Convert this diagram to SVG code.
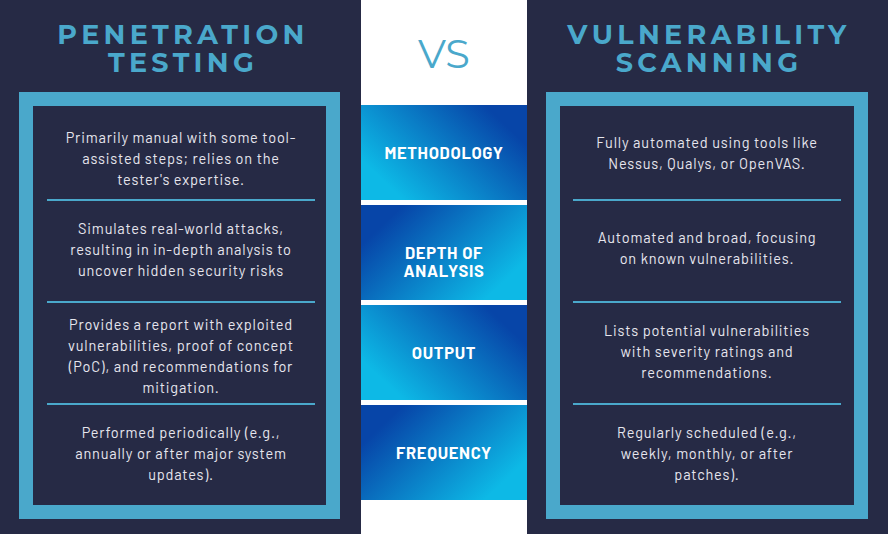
<svg xmlns="http://www.w3.org/2000/svg" width="888" height="534" viewBox="0 0 888 534">
<defs>
<linearGradient id="gA" x1="0" y1="0.8" x2="1" y2="0.2"><stop offset="0.1" stop-color="#0db9e6"/><stop offset="0.9" stop-color="#0745a8"/></linearGradient>
<linearGradient id="gB" x1="0" y1="0.2" x2="1" y2="0.8"><stop offset="0.1" stop-color="#0745a8"/><stop offset="0.9" stop-color="#0db9e6"/></linearGradient>
<style>
.panel{fill:#262a45}
.frame{fill:none;stroke:#4aa8cb;stroke-width:14}
.sep{stroke:#4aa8cb;stroke-width:2}
.title{font-family:Montserrat,"Liberation Sans",sans-serif;font-weight:bold;font-size:27px;letter-spacing:4.3px;fill:#4aa8cb;text-anchor:middle}
.body{font-family:Barlow,Roboto,"Liberation Sans",sans-serif;font-size:14.5px;letter-spacing:0.8px;fill:#e6e6ee;text-anchor:middle}
.lab{font-family:Barlow,Roboto,"Liberation Sans",sans-serif;font-weight:bold;font-size:16.5px;letter-spacing:0.7px;fill:#ffffff;text-anchor:middle}
</style>
</defs>
<rect width="888" height="534" fill="#ffffff"/>
<g id="left">
<rect class="panel" x="0" y="0" width="361" height="534"/>
<text class="title" x="183" y="44">PENETRATION</text>
<text class="title" x="183" y="72">TESTING</text>
<rect class="frame" x="26" y="99" width="307" height="413"/>
<line class="sep" x1="47" y1="200" x2="315" y2="200"/>
<line class="sep" x1="47" y1="302" x2="315" y2="302"/>
<line class="sep" x1="47" y1="404" x2="315" y2="404"/>
<text class="body"><tspan x="181" y="143">Primarily manual with some tool-</tspan><tspan x="181" y="164">assisted steps; relies on the</tspan><tspan x="181" y="185">tester's expertise.</tspan></text>
<text class="body"><tspan x="181" y="234">Simulates real-world attacks,</tspan><tspan x="181" y="255">resulting in in-depth analysis to</tspan><tspan x="181" y="276">uncover hidden security risks</tspan></text>
<text class="body"><tspan x="181" y="330">Provides a report with exploited</tspan><tspan x="181" y="351">vulnerabilities, proof of concept</tspan><tspan x="181" y="372">(PoC), and recommendations for</tspan><tspan x="181" y="393">mitigation.</tspan></text>
<text class="body"><tspan x="181" y="438">Performed periodically (e.g.,</tspan><tspan x="181" y="459">annually or after major system</tspan><tspan x="181" y="480">updates).</tspan></text>
</g>
<g id="vs"><text x="444" y="68" font-family="Montserrat,'Liberation Sans',sans-serif" font-size="40" fill="#4aa8cb" text-anchor="middle">VS</text></g>
<g id="middle">
<rect x="361" y="105" width="166" height="95" fill="url(#gA)"/>
<rect x="361" y="205" width="166" height="95" fill="url(#gB)"/>
<rect x="361" y="305" width="166" height="95" fill="url(#gA)"/>
<rect x="361" y="405" width="166" height="95" fill="url(#gB)"/>
<text class="lab" x="444" y="159">METHODOLOGY</text>
<text class="lab" x="444" y="259">DEPTH OF</text>
<text class="lab" x="444" y="277">ANALYSIS</text>
<text class="lab" x="444" y="359">OUTPUT</text>
<text class="lab" x="444" y="459">FREQUENCY</text>
</g>
<g id="right">
<rect class="panel" x="527" y="0" width="361" height="534"/>
<text class="title" x="709" y="44">VULNERABILITY</text>
<text class="title" x="709" y="72">SCANNING</text>
<rect class="frame" x="553" y="99" width="308" height="413"/>
<line class="sep" x1="573" y1="200" x2="841" y2="200"/>
<line class="sep" x1="573" y1="302" x2="841" y2="302"/>
<line class="sep" x1="573" y1="404" x2="841" y2="404"/>
<text class="body"><tspan x="707" y="148">Fully automated using tools like</tspan><tspan x="707" y="169">Nessus, Qualys, or OpenVAS.</tspan></text>
<text class="body"><tspan x="707" y="243">Automated and broad, focusing</tspan><tspan x="707" y="264">on known vulnerabilities.</tspan></text>
<text class="body"><tspan x="707" y="336">Lists potential vulnerabilities</tspan><tspan x="707" y="357">with severity ratings and</tspan><tspan x="707" y="378">recommendations.</tspan></text>
<text class="body"><tspan x="707" y="438">Regularly scheduled (e.g.,</tspan><tspan x="707" y="459">weekly, monthly, or after</tspan><tspan x="707" y="480">patches).</tspan></text>
</g>
</svg>
